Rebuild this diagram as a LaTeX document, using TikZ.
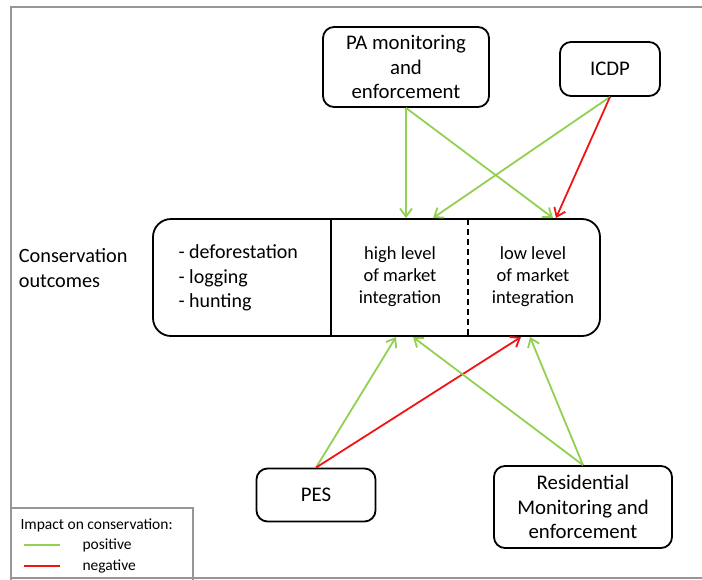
\documentclass[tikz,border=0pt]{standalone}
\usepackage{fontspec}
\setmainfont{Carlito}
\usetikzlibrary{arrows.meta,positioning}
\definecolor{posGreen}{RGB}{146,208,80}
\definecolor{negRed}{RGB}{240,20,20}
\definecolor{frameGray}{RGB}{150,150,150}
\tikzset{
  box/.style={draw, line width=1.8pt, rounded corners=11pt, align=center, inner sep=0pt,
    font=\fontsize{20.8}{24.5}\selectfont},
  coltext/.style={align=center, font=\fontsize{18.5}{22}\selectfont},
  posarrow/.style={posGreen, line width=1.8pt, -{Straight Barb[length=8pt,width=12pt]}},
  negarrow/.style={negRed, line width=1.8pt, -{Straight Barb[length=8pt,width=12pt]}},
}

\begin{document}
\begin{tikzpicture}[x=1pt, y=-1pt]
    \useasboundingbox (0,0) rectangle (702,579);
    \clip (0,0) rectangle (702,579);
    % Frame
    \draw[frameGray, line width=1.6pt] (710,7) -- (11,7) -- (11,578) -- (710,578);
    % Sources
    \node[box, minimum width=166pt, minimum height=80pt] (pa) at (406,67) {PA monitoring\\and\\enforcement};
    \node[box, minimum width=100pt, minimum height=54pt] (icdp) at (610,69) {ICDP};
    \node[box, minimum width=119pt, minimum height=53pt] (pes) at (316,495) {PES};
    \node[box, minimum width=178pt, minimum height=82pt] (res) at (583,507) {Residential\\Monitoring and\\enforcement};
    % Outcomes
    \node[left, align=left, font=\fontsize{20.3}{25}\selectfont] (outc) at (131,268) {Conservation\\outcomes};
    \node[box, rounded corners=18pt, minimum width=447pt, minimum height=117pt] (main) at (376.5,277.5) {};
    \draw[line width=1.8pt] (331,219) -- (331,336);
    \draw[line width=1.6pt, dash pattern=on 6pt off 4pt] (468,219) -- (468,336);
    \node[right, align=left, font=\fontsize{20}{24.5}\selectfont] (acts) at (175,278) {- deforestation\\- logging\\- hunting};
    \node[coltext] (high) at (400,277) {high level\\of market\\integration};
    \node[coltext] (low) at (533,277) {low level\\of market\\integration};
    % Arrow ends
    \coordinate (t1) at (406,218);
    \coordinate (t2) at (433,218);
    \coordinate (t3) at (553,218);
    \coordinate (t4) at (556,218);
    \coordinate (b1) at (396,337);
    \coordinate (b2) at (521,337);
    \coordinate (b3) at (413,337);
    \coordinate (b4) at (530,337);
    % Impacts
    \draw[posarrow] (pa.south) -- (t1);
    \draw[posarrow] (pa.south) -- (t3);
    \draw[posarrow] (icdp.south) -- (t2);
    \draw[negarrow] (icdp.south) -- (t4);
    \draw[posarrow] (pes.north) -- (b1);
    \draw[negarrow] (pes.north) -- (b2);
    \draw[posarrow] (res.north) -- (b3);
    \draw[posarrow] (res.north) -- (b4);
    % Legend
    \draw[frameGray, line width=1.6pt] (11,508) rectangle (193,590);
    \node[right, font=\fontsize{15.5}{18}\selectfont] (legtitle) at (17,525) {Impact on conservation:};
    \draw[posGreen, line width=1.8pt] (24,545) -- (60,545);
    \draw[negRed, line width=1.8pt] (24,566) -- (60,566);
    \node[right, font=\fontsize{15.5}{18}\selectfont] (legpos) at (79,545) {positive};
    \node[right, font=\fontsize{15.5}{18}\selectfont] (legneg) at (79,566) {negative};
\end{tikzpicture}
\end{document}
